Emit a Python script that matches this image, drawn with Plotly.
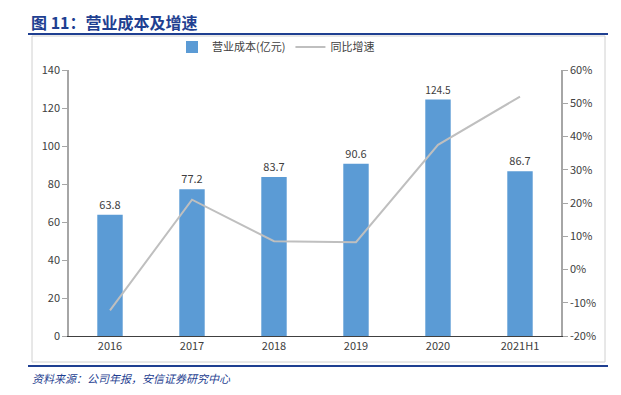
import plotly.graph_objects as go

categories = ["2016", "2017", "2018", "2019", "2020", "2021H1"]
cost = [63.8, 77.2, 83.7, 90.6, 124.5, 86.7]
growth = [-12.3, 21.0, 8.5, 8.2, 37.5, 52.0]
left_ticks = [0, 20, 40, 60, 80, 100, 120, 140]
right_ticks = [-20, -10, 0, 10, 20, 30, 40, 50, 60]
right_labels = [f"{v}%" for v in right_ticks]

CJK = "Noto Sans CJK SC, Microsoft YaHei, sans-serif"
TXT = "#404040"
PW, PH, L, B = 492, 266, 69, 59

def px(x):
    return (x - L) / PW

def py(y):
    return (395 - B - y) / PH

fig = go.Figure()
fig.add_trace(go.Bar(
    x=categories, y=cost, name="营业成本(亿元)",
    marker=dict(color="#5B9BD5", line=dict(width=0)),
    width=0.31,
    text=[f"{v:.1f}" for v in cost], textposition="outside",
    textfont=dict(size=11, color=TXT, family=CJK),
    cliponaxis=False,
))
fig.add_trace(go.Scatter(
    x=categories, y=growth, name="同比增速", yaxis="y2",
    mode="lines", line=dict(color="#BFBFBF", width=2),
))

fig.update_layout(
    width=621, height=395,
    margin=dict(l=L, r=60, t=70, b=B, autoexpand=False),
    paper_bgcolor="white", plot_bgcolor="white",
    font=dict(family=CJK, size=11, color=TXT),
    showlegend=True,
    legend=dict(orientation="h", x=px(172), xanchor="left", y=py(47), yanchor="middle",
                font=dict(size=11, color=TXT), itemwidth=30, tracegroupgap=0,
                bgcolor="rgba(0,0,0,0)"),
    xaxis=dict(type="category", showgrid=False, showline=True, linecolor="#404040",
               linewidth=1, ticks="", tickfont=dict(size=11, color=TXT), automargin=False),
    yaxis=dict(range=[0, 140], tickvals=left_ticks, showgrid=False, zeroline=False,
               showline=True, linecolor="#A6A6A6", linewidth=1.5, ticks="outside",
               ticklen=5, tickcolor="#A6A6A6", tickfont=dict(size=11, color=TXT),
               automargin=False),
    yaxis2=dict(range=[-20, 60], tickvals=right_ticks, ticktext=right_labels,
                overlaying="y", side="right", showgrid=False, zeroline=False, showline=True,
                linecolor="#A6A6A6", linewidth=1.5, ticks="outside", ticklen=5,
                tickcolor="#A6A6A6", tickfont=dict(size=11, color=TXT), automargin=False),
    shapes=[
        dict(type="line", xref="paper", yref="paper", x0=px(28), x1=px(608),
             y0=py(34), y1=py(34), line=dict(color="#1F3F91", width=2)),
        dict(type="rect", xref="paper", yref="paper", x0=px(32), x1=px(605),
             y0=py(362), y1=py(36), line=dict(color="#D0D0D0", width=1)),
        dict(type="line", xref="paper", yref="paper", x0=px(28), x1=px(608),
             y0=py(366), y1=py(366), line=dict(color="#1F3F91", width=2)),
    ],
    annotations=[
        dict(text="<b>图 11：营业成本及增速</b>", xref="paper", yref="paper",
             x=px(29), y=py(22), xanchor="left", yanchor="middle",
             showarrow=False, font=dict(size=16, color="#1F3F91", family=CJK)),
        dict(text="<i>资料来源：公司年报，安信证券研究中心</i>", xref="paper", yref="paper",
             x=px(30), y=py(378), xanchor="left", yanchor="middle",
             showarrow=False, font=dict(size=11, color="#1F3F91", family=CJK)),
    ],
)

fig.write_html("out.html", config={"displayModeBar": False},
               post_script="document.body.style.margin='0';document.body.style.overflow='hidden';")
